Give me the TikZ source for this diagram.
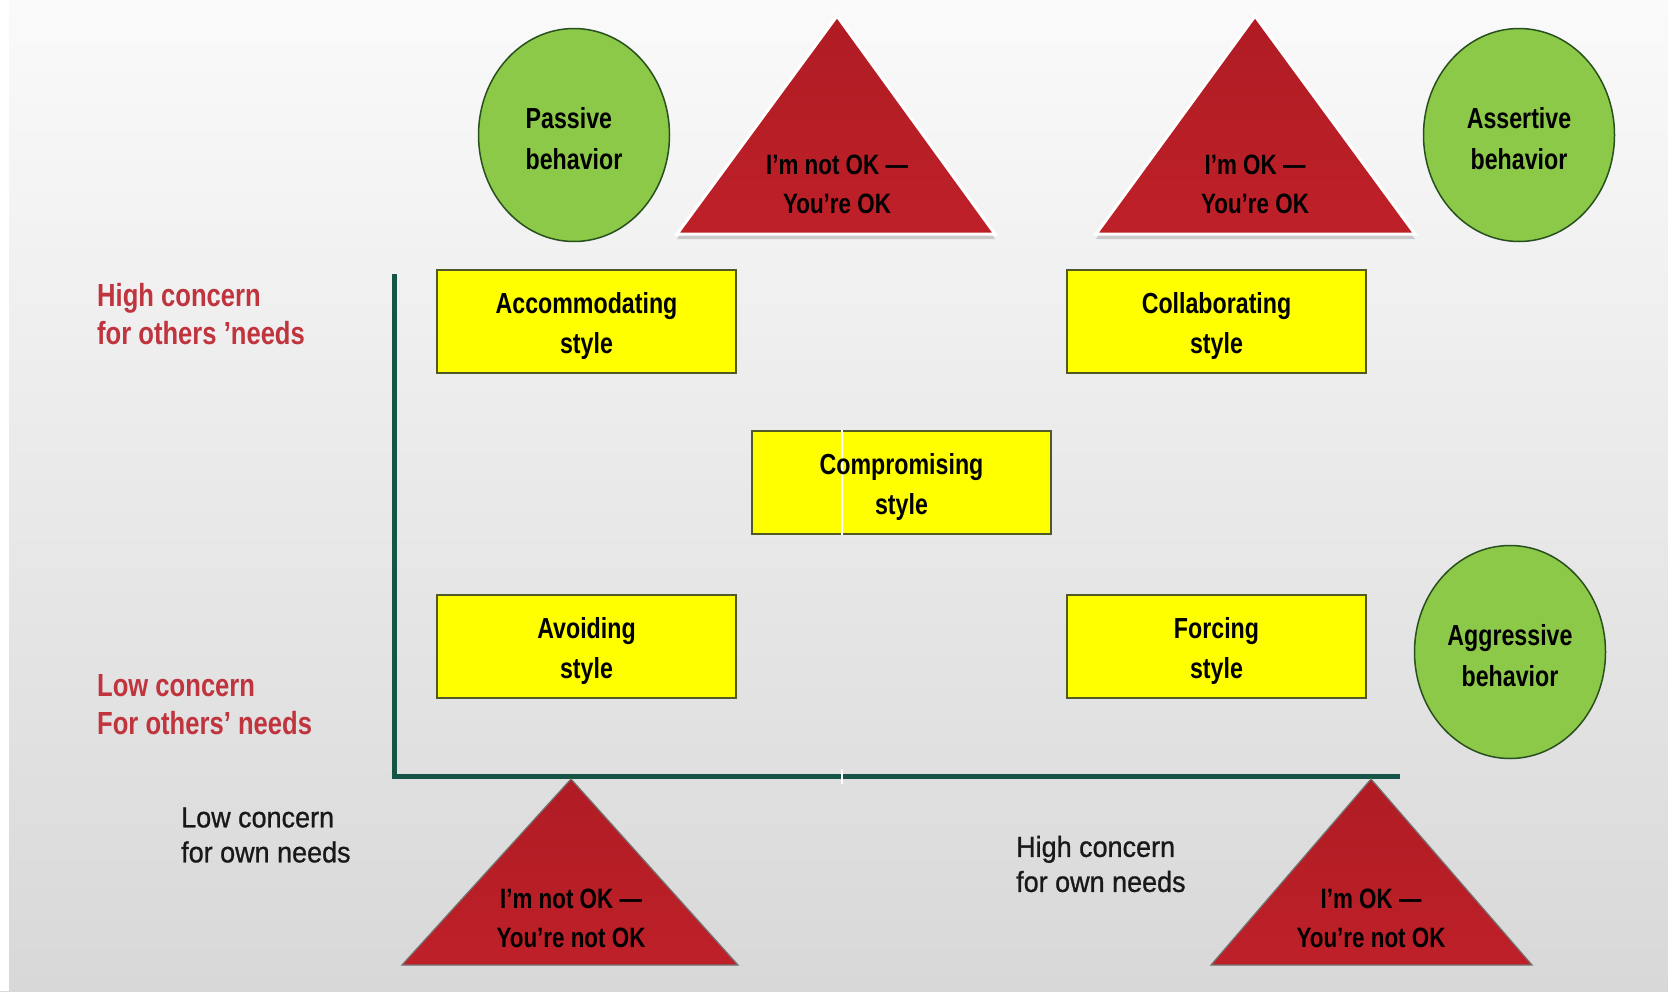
\documentclass[tikz,border=0pt]{standalone}
\usepackage{fontspec}
\setmainfont{Liberation Sans}
\newfontfamily\narrowfont{Liberation Sans}[FakeStretch=0.8]
\newfontfamily\axisfont{Liberation Sans}[FakeStretch=0.93, FakeBold=0.9]
\usetikzlibrary{shapes.geometric,shadows}

\definecolor{bgtop}{RGB}{250,250,250}
\definecolor{bgbot}{RGB}{216,216,216}
\definecolor{leafgreen}{RGB}{141,201,72}
\definecolor{leafedge}{RGB}{40,80,30}
\definecolor{boxyellow}{RGB}{255,255,0}
\definecolor{boxedge}{RGB}{80,90,40}
\definecolor{okred}{RGB}{190,32,40}
\definecolor{okredtop}{RGB}{176,28,36}
\definecolor{axisteal}{RGB}{22,84,72}
\definecolor{labelred}{RGB}{192,52,62}

\tikzset{
  behaviour/.style={ellipse, draw=leafedge, line width=1.5pt, fill=leafgreen,
    minimum width=191, minimum height=213, inner sep=0pt},
  behaviourtext/.style={inner sep=0pt, align=center,
    font=\narrowfont\bfseries\fontsize{29}{41}\selectfont},
  stylebox/.style={rectangle, draw=boxedge, line width=2pt, fill=boxyellow,
    minimum width=299, minimum height=103, inner sep=0pt},
  styletext/.style={inner sep=0pt, align=center,
    font=\narrowfont\bfseries\fontsize{29}{40}\selectfont},
  oktext/.style={inner sep=0pt, align=center,
    font=\narrowfont\bfseries\fontsize{28}{39}\selectfont},
  toptri/.style={top color=okredtop, bottom color=okred, draw=white, line width=3pt,
    line join=miter, drop shadow={opacity=0.35, shadow xshift=0pt, shadow yshift=-5pt}},
  bottri/.style={top color=okredtop, bottom color=okred, draw=black!55, line width=1.2pt},
  otherslabel/.style={anchor=west, inner sep=0pt, align=left, text=labelred,
    font=\narrowfont\bfseries\fontsize{32}{38}\selectfont},
  ownlabel/.style={anchor=west, inner sep=0pt, align=left, text=black!90,
    font=\axisfont\fontsize{29}{35}\selectfont},
  axisline/.style={draw=axisteal, line width=5pt},
  seam/.style={draw=white, line width=1.6pt}
}

\begin{document}
\begin{tikzpicture}[x=1pt, y=-1pt]
  \useasboundingbox (0,0) rectangle (1668,991);
  % backdrop
  \shade[top color=bgtop, bottom color=bgbot] (0,0) rectangle (1668,991);
  \fill[white] (0,0) rectangle (9,991);

  % corner points of the four OK triangles
  \coordinate (t1a) at (837,16);   \coordinate (t1l) at (677,234);  \coordinate (t1r) at (995,234);
  \coordinate (t2a) at (1255,16);  \coordinate (t2l) at (1096,234); \coordinate (t2r) at (1415,234);
  \coordinate (b1a) at (571,779);  \coordinate (b1l) at (402,965);  \coordinate (b1r) at (738,965);
  \coordinate (b2a) at (1371,779); \coordinate (b2l) at (1211,965); \coordinate (b2r) at (1532,965);

  % top triangles
  \path[toptri] (t1a) -- (t1r) -- (t1l) -- cycle;
  \path[toptri] (t2a) -- (t2r) -- (t2l) -- cycle;
  \node[oktext] (notok-ok) at (837,184) {I’m not OK —\\You’re OK};
  \node[oktext] (ok-ok) at (1255,184) {I’m OK —\\You’re OK};

  % behaviour circles
  \node[behaviour] (passive) at (574,135) {};
  \node[behaviour] (assertive) at (1519,135) {};
  \node[behaviour] (aggressive) at (1510,652) {};
  \node[behaviourtext, align=left] (passive-text) at ([yshift=-4pt]passive.center) {Passive\\behavior};
  \node[behaviourtext] (assertive-text) at ([yshift=-4pt]assertive.center) {Assertive\\behavior};
  \node[behaviourtext] (aggressive-text) at ([yshift=-4pt]aggressive.center) {Aggressive\\behavior};

  % axes
  \coordinate (origin) at (394,776);
  \coordinate (ytop) at (394,274);
  \coordinate (xend) at (1400,776);
  \draw[axisline] (ytop) -- ([yshift=2.5pt]origin) ;
  \draw[axisline] ([xshift=-2.5pt]origin) -- (xend);

  % conflict styles
  \node[stylebox] (accommodating) at (586.5,321.5) {};
  \node[stylebox] (collaborating) at (1216.5,321.5) {};
  \node[stylebox] (compromising) at (901.5,482.5) {};
  \node[stylebox] (avoiding) at (586.5,646.5) {};
  \node[stylebox] (forcing) at (1216.5,646.5) {};

  % thin light seam through the middle box and the axis
  \draw[seam] (compromising.north -| 842,0) -- (compromising.south -| 842,0);
  \coordinate (seamtop) at (842,769);
  \coordinate (seambot) at (842,784);
  \draw[seam] (seamtop) -- (seambot);

  \node[styletext] (accommodating-text) at ([yshift=-4pt]accommodating.center) {Accommodating\\style};
  \node[styletext] (collaborating-text) at ([yshift=-4pt]collaborating.center) {Collaborating\\style};
  \node[styletext] (compromising-text) at ([yshift=-4pt]compromising.center) {Compromising\\style};
  \node[styletext] (avoiding-text) at ([yshift=-4pt]avoiding.center) {Avoiding\\style};
  \node[styletext] (forcing-text) at ([yshift=-4pt]forcing.center) {Forcing\\style};

  % bottom triangles
  \path[bottri] (b1a) -- (b1r) -- (b1l) -- cycle;
  \path[bottri] (b2a) -- (b2r) -- (b2l) -- cycle;
  \node[oktext] (notok-notok) at (571,918) {I’m not OK —\\You’re not OK};
  \node[oktext] (ok-notok) at (1371,918) {I’m OK —\\You’re not OK};

  % axis labels
  \node[otherslabel] (high-others) at (97,314) {High concern\\for others ’needs};
  \node[otherslabel] (low-others) at (97,705) {Low concern\\For others’ needs};
  \node[ownlabel] (low-own) at (181,835) {Low concern\\for own needs};
  \node[ownlabel] (high-own) at (1016,864) {High concern\\for own needs};
\end{tikzpicture}
\end{document}
